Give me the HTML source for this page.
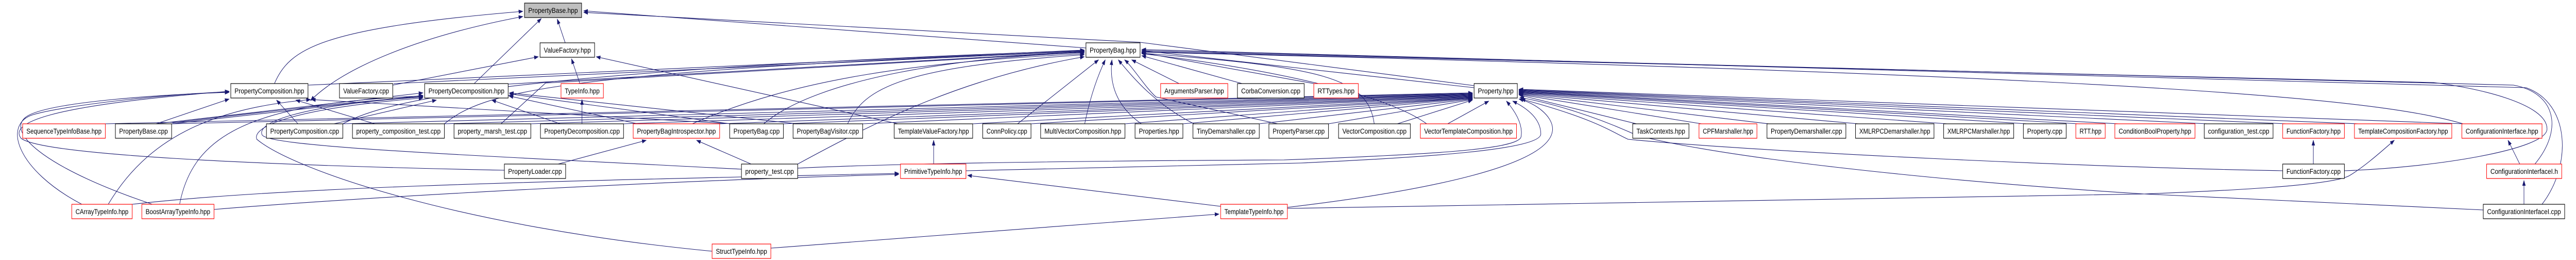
<!DOCTYPE html>
<html><head><meta charset="utf-8"><style>
html,body{margin:0;padding:0;background:#fff;overflow:hidden;width:100%;height:100%;}
svg{display:block;width:100vw;height:100vh;}
text{font-family:"Liberation Sans",sans-serif;font-size:14px;fill:#000;}
.e{fill:none;stroke:#191970;stroke-width:1.1;}
</style></head><body>
<svg viewBox="0 0 6139 504" preserveAspectRatio="none" xmlns="http://www.w3.org/2000/svg">
<defs>
<marker id="a" markerWidth="11" markerHeight="8" refX="10" refY="4" orient="auto" markerUnits="userSpaceOnUse"><path d="M0,0 L11,4 L0,8 z" fill="#191970"/></marker>
<marker id="s" markerWidth="11" markerHeight="8" refX="1" refY="4" orient="auto" markerUnits="userSpaceOnUse"><path d="M11,0 L0,4 L11,8 z" fill="#191970"/></marker>
</defs>
<g class="e" marker-end="url(#a)">
<path d="M654,162 C690,95 760,55 1246,22"/>
<path d="M740,195 C820,130 1000,70 1246,32" marker-start="url(#s)"/>
<path d="M1130,162 L1290,36"/>
<path d="M1347,83 L1328,37"/>
<path d="M2588,93 L1391,21"/>
<path d="M3513,166 L2717,82 L1391,24"/>
<path d="M936,165 L1283,110"/>
<path d="M1382,162 L1362,114"/>
<path d="M2140,240 L1421,110"/>
<path d="M1387,240 L1387,193"/>
<path d="M710,240 L659,194"/>
<path d="M893,240 L705,194"/>
<path d="M1745,240 L742,193"/>
<path d="M372,240 L546,192"/>
<path d="M195,396 C40,330 4,240 80,222 S400,182 546,178"/>
<path d="M363,396 C120,330 14,260 60,228 S420,182 546,179"/>
<path d="M1202,330 C600,320 100,300 50,268 C24,240 100,205 546,177"/>
<path d="M258,396 C350,270 500,210 740,193"/>
<path d="M409,240 L1008,185"/>
<path d="M411,238 C600,220 800,200 1008,187"/>
<path d="M372,240 L1008,180"/>
<path d="M796,240 L1040,194"/>
<path d="M428,396 C460,260 600,200 1008,186"/>
<path d="M1335,240 L1172,194"/>
<path d="M1520,240 L1213,186"/>
<path d="M1740,240 L1214,182"/>
<path d="M1900,240 L1214,180"/>
<path d="M1767,328 C1100,300 650,285 625,262 C610,240 700,205 1008,188"/>
<path d="M1697,487 C1100,440 700,330 612,270 C600,245 700,210 1008,190"/>
<path d="M1330,318 L1540,272"/>
<path d="M1790,318 L1660,272"/>
<path d="M735,165 L2584,97"/>
<path d="M938,162 L2584,99"/>
<path d="M1211,163 L2584,100"/>
<path d="M1650,240 C1900,150 2200,120 2584,104"/>
<path d="M1820,240 C1950,150 2300,110 2584,102"/>
<path d="M2020,240 C2060,170 2150,130 2584,106"/>
<path d="M1901,318 C2100,230 2300,150 2584,110"/>
<path d="M817,240 C900,205 1100,140 2584,98"/>
<path d="M1059,240 C1150,180 1300,140 2584,99"/>
<path d="M1194,240 L1300,161 L2584,101"/>
<path d="M2425,240 L2618,116"/>
<path d="M2585,240 C2600,180 2620,140 2634,116"/>
<path d="M2720,240 C2650,200 2645,150 2650,116"/>
<path d="M2845,240 C2750,200 2700,150 2665,116"/>
<path d="M3045,240 L2755,188 C2730,170 2700,130 2680,116"/>
<path d="M2810,162 L2697,116"/>
<path d="M2960,162 L2721,108"/>
<path d="M3131,162 L2721,102"/>
<path d="M3513,170 L2721,98"/>
<path d="M3400,240 C3300,180 3000,130 2721,104"/>
<path d="M3275,240 C3260,150 3150,130 2721,103"/>
<path d="M6041,318 C6110,250 6090,180 5990,165 L2721,98"/>
<path d="M6058,396 C6130,320 6125,200 6020,170 L2721,96"/>
<path d="M5587,331 C5800,325 6070,290 6070,250 C6070,200 5900,170 5800,160 L2721,100"/>
<path d="M5870,240 C5700,200 5300,150 2721,101"/>
<path d="M251,240 L3509,180"/>
<path d="M409,240 L3509,181"/>
<path d="M817,240 L3509,182"/>
<path d="M1059,240 L3509,183"/>
<path d="M1265,240 L3509,184"/>
<path d="M1486,240 L3509,185"/>
<path d="M1715,240 L3509,186"/>
<path d="M1867,240 L3509,187"/>
<path d="M2056,240 L3509,188"/>
<path d="M2318,240 L3509,189"/>
<path d="M2457,240 L3509,190"/>
<path d="M2681,240 L3509,190"/>
<path d="M2819,240 L3509,191"/>
<path d="M3001,240 L3509,192"/>
<path d="M3166,240 L3509,193"/>
<path d="M3330,240 L3509,194"/>
<path d="M3450,240 L3548,196"/>
<path d="M1901,326 C2100,318 2500,312 3060,310 C3400,300 3620,290 3625,265 C3630,240 3610,215 3590,196"/>
<path d="M2302,331 C2700,325 3000,318 3100,316 C3400,305 3670,290 3672,260 C3672,230 3640,210 3605,196"/>
<path d="M3068,402 C3400,370 3700,320 3700,250 C3700,225 3660,200 3620,192"/>
<path d="M5440,331 C5000,325 4200,295 3880,270 C3840,255 3800,230 3625,192"/>
<path d="M5918,407 L5110,376 C4600,350 4100,305 3900,262 C3800,225 3700,200 3622,189"/>
<path d="M3900,240 L3620,184"/>
<path d="M4055,240 L3620,183"/>
<path d="M4215,240 L3620,182"/>
<path d="M4428,240 L3620,181"/>
<path d="M4640,240 L3620,180"/>
<path d="M4830,240 L3620,179"/>
<path d="M4952,240 L3620,178"/>
<path d="M5048,240 L3620,177"/>
<path d="M5260,240 L3620,176"/>
<path d="M5448,240 L3620,175"/>
<path d="M5620,240 L3620,174"/>
<path d="M5870,240 L3620,173"/>
<path d="M2225,318 L2225,272"/>
<path d="M5513,318 L5513,272"/>
<path d="M6005,318 L5977,272"/>
<path d="M6015,396 L6015,350"/>
<path d="M3068,404 L5110,376 C5300,370 5560,360 5600,340 C5640,320 5680,290 5706,272"/>
<path d="M315,396 C700,360 1400,350 2142,336"/>
<path d="M510,406 C900,380 1600,350 2142,338"/>
<path d="M2909,400 L2306,340"/>
<path d="M1837,481 L2905,415"/>
</g>
<g stroke-width="1.2">
<rect x="1250" y="6" width="136" height="28" fill="#bfbfbf" stroke="#000"/><text x="1259" y="25" textLength="118" lengthAdjust="spacingAndGlyphs">PropertyBase.hpp</text>
<rect x="1287" y="83" width="130" height="28" fill="#fff" stroke="#000"/><text x="1296" y="102" textLength="112" lengthAdjust="spacingAndGlyphs">ValueFactory.hpp</text>
<rect x="2588" y="83" width="129" height="28" fill="#fff" stroke="#000"/><text x="2597" y="102" textLength="111" lengthAdjust="spacingAndGlyphs">PropertyBag.hpp</text>
<rect x="550" y="162" width="184" height="28" fill="#fff" stroke="#000"/><text x="559" y="181" textLength="166" lengthAdjust="spacingAndGlyphs">PropertyComposition.hpp</text>
<rect x="809" y="162" width="127" height="28" fill="#fff" stroke="#000"/><text x="818" y="181" textLength="109" lengthAdjust="spacingAndGlyphs">ValueFactory.cpp</text>
<rect x="1012" y="162" width="199" height="28" fill="#fff" stroke="#000"/><text x="1021" y="181" textLength="181" lengthAdjust="spacingAndGlyphs">PropertyDecomposition.hpp</text>
<rect x="1337" y="162" width="101" height="28" fill="#fff" stroke="#f00"/><text x="1346" y="181" textLength="83" lengthAdjust="spacingAndGlyphs">TypeInfo.hpp</text>
<rect x="2766" y="162" width="160" height="28" fill="#fff" stroke="#f00"/><text x="2775" y="181" textLength="142" lengthAdjust="spacingAndGlyphs">ArgumentsParser.hpp</text>
<rect x="2949" y="162" width="159" height="28" fill="#fff" stroke="#000"/><text x="2958" y="181" textLength="141" lengthAdjust="spacingAndGlyphs">CorbaConversion.cpp</text>
<rect x="3131" y="162" width="106" height="28" fill="#fff" stroke="#f00"/><text x="3140" y="181" textLength="88" lengthAdjust="spacingAndGlyphs">RTTypes.hpp</text>
<rect x="3513" y="162" width="103" height="28" fill="#fff" stroke="#000"/><text x="3522" y="181" textLength="85" lengthAdjust="spacingAndGlyphs">Property.hpp</text>
<rect x="54" y="240" width="197" height="28" fill="#fff" stroke="#f00"/><text x="63" y="259" textLength="179" lengthAdjust="spacingAndGlyphs">SequenceTypeInfoBase.hpp</text>
<rect x="275" y="240" width="134" height="28" fill="#fff" stroke="#000"/><text x="284" y="259" textLength="116" lengthAdjust="spacingAndGlyphs">PropertyBase.cpp</text>
<rect x="635" y="240" width="182" height="28" fill="#fff" stroke="#000"/><text x="644" y="259" textLength="164" lengthAdjust="spacingAndGlyphs">PropertyComposition.cpp</text>
<rect x="840" y="240" width="219" height="28" fill="#fff" stroke="#000"/><text x="849" y="259" textLength="201" lengthAdjust="spacingAndGlyphs">property_composition_test.cpp</text>
<rect x="1082" y="240" width="183" height="28" fill="#fff" stroke="#000"/><text x="1091" y="259" textLength="165" lengthAdjust="spacingAndGlyphs">property_marsh_test.cpp</text>
<rect x="1288" y="240" width="198" height="28" fill="#fff" stroke="#000"/><text x="1297" y="259" textLength="180" lengthAdjust="spacingAndGlyphs">PropertyDecomposition.cpp</text>
<rect x="1509" y="240" width="206" height="28" fill="#fff" stroke="#f00"/><text x="1518" y="259" textLength="188" lengthAdjust="spacingAndGlyphs">PropertyBagIntrospector.hpp</text>
<rect x="1739" y="240" width="128" height="28" fill="#fff" stroke="#000"/><text x="1748" y="259" textLength="110" lengthAdjust="spacingAndGlyphs">PropertyBag.cpp</text>
<rect x="1890" y="240" width="166" height="28" fill="#fff" stroke="#000"/><text x="1899" y="259" textLength="148" lengthAdjust="spacingAndGlyphs">PropertyBagVisitor.cpp</text>
<rect x="2131" y="240" width="187" height="28" fill="#fff" stroke="#000"/><text x="2140" y="259" textLength="169" lengthAdjust="spacingAndGlyphs">TemplateValueFactory.hpp</text>
<rect x="2342" y="240" width="115" height="28" fill="#fff" stroke="#000"/><text x="2351" y="259" textLength="97" lengthAdjust="spacingAndGlyphs">ConnPolicy.cpp</text>
<rect x="2480" y="240" width="201" height="28" fill="#fff" stroke="#000"/><text x="2489" y="259" textLength="183" lengthAdjust="spacingAndGlyphs">MultiVectorComposition.hpp</text>
<rect x="2705" y="240" width="114" height="28" fill="#fff" stroke="#000"/><text x="2714" y="259" textLength="96" lengthAdjust="spacingAndGlyphs">Properties.hpp</text>
<rect x="2843" y="240" width="158" height="28" fill="#fff" stroke="#000"/><text x="2852" y="259" textLength="140" lengthAdjust="spacingAndGlyphs">TinyDemarshaller.cpp</text>
<rect x="3024" y="240" width="142" height="28" fill="#fff" stroke="#000"/><text x="3033" y="259" textLength="124" lengthAdjust="spacingAndGlyphs">PropertyParser.cpp</text>
<rect x="3190" y="240" width="171" height="28" fill="#fff" stroke="#000"/><text x="3199" y="259" textLength="153" lengthAdjust="spacingAndGlyphs">VectorComposition.cpp</text>
<rect x="3385" y="240" width="229" height="28" fill="#fff" stroke="#f00"/><text x="3394" y="259" textLength="211" lengthAdjust="spacingAndGlyphs">VectorTemplateComposition.hpp</text>
<rect x="3891" y="240" width="134" height="28" fill="#fff" stroke="#000"/><text x="3900" y="259" textLength="116" lengthAdjust="spacingAndGlyphs">TaskContexts.hpp</text>
<rect x="4049" y="240" width="138" height="28" fill="#fff" stroke="#f00"/><text x="4058" y="259" textLength="120" lengthAdjust="spacingAndGlyphs">CPFMarshaller.hpp</text>
<rect x="4211" y="240" width="188" height="28" fill="#fff" stroke="#000"/><text x="4220" y="259" textLength="170" lengthAdjust="spacingAndGlyphs">PropertyDemarshaller.cpp</text>
<rect x="4422" y="240" width="187" height="28" fill="#fff" stroke="#000"/><text x="4431" y="259" textLength="169" lengthAdjust="spacingAndGlyphs">XMLRPCDemarshaller.hpp</text>
<rect x="4632" y="240" width="167" height="28" fill="#fff" stroke="#000"/><text x="4641" y="259" textLength="149" lengthAdjust="spacingAndGlyphs">XMLRPCMarshaller.hpp</text>
<rect x="4822" y="240" width="102" height="28" fill="#fff" stroke="#000"/><text x="4831" y="259" textLength="84" lengthAdjust="spacingAndGlyphs">Property.cpp</text>
<rect x="4947" y="240" width="70" height="28" fill="#fff" stroke="#f00"/><text x="4956" y="259" textLength="52" lengthAdjust="spacingAndGlyphs">RTT.hpp</text>
<rect x="5040" y="240" width="191" height="28" fill="#fff" stroke="#f00"/><text x="5049" y="259" textLength="173" lengthAdjust="spacingAndGlyphs">ConditionBoolProperty.hpp</text>
<rect x="5253" y="240" width="164" height="28" fill="#fff" stroke="#000"/><text x="5262" y="259" textLength="146" lengthAdjust="spacingAndGlyphs">configuration_test.cpp</text>
<rect x="5440" y="240" width="147" height="28" fill="#fff" stroke="#f00"/><text x="5449" y="259" textLength="129" lengthAdjust="spacingAndGlyphs">FunctionFactory.hpp</text>
<rect x="5611" y="240" width="232" height="28" fill="#fff" stroke="#f00"/><text x="5620" y="259" textLength="214" lengthAdjust="spacingAndGlyphs">TemplateCompositionFactory.hpp</text>
<rect x="5867" y="240" width="191" height="28" fill="#fff" stroke="#f00"/><text x="5876" y="259" textLength="173" lengthAdjust="spacingAndGlyphs">ConfigurationInterface.hpp</text>
<rect x="1202" y="318" width="146" height="28" fill="#fff" stroke="#000"/><text x="1211" y="337" textLength="128" lengthAdjust="spacingAndGlyphs">PropertyLoader.cpp</text>
<rect x="1767" y="318" width="134" height="28" fill="#fff" stroke="#000"/><text x="1776" y="337" textLength="116" lengthAdjust="spacingAndGlyphs">property_test.cpp</text>
<rect x="2146" y="318" width="156" height="28" fill="#fff" stroke="#f00"/><text x="2155" y="337" textLength="138" lengthAdjust="spacingAndGlyphs">PrimitiveTypeInfo.hpp</text>
<rect x="5440" y="318" width="147" height="28" fill="#fff" stroke="#000"/><text x="5449" y="337" textLength="129" lengthAdjust="spacingAndGlyphs">FunctionFactory.cpp</text>
<rect x="5926" y="318" width="179" height="28" fill="#fff" stroke="#f00"/><text x="5935" y="337" textLength="161" lengthAdjust="spacingAndGlyphs">ConfigurationInterfaceI.h</text>
<rect x="171" y="396" width="144" height="28" fill="#fff" stroke="#f00"/><text x="180" y="415" textLength="126" lengthAdjust="spacingAndGlyphs">CArrayTypeInfo.hpp</text>
<rect x="338" y="396" width="172" height="28" fill="#fff" stroke="#f00"/><text x="347" y="415" textLength="154" lengthAdjust="spacingAndGlyphs">BoostArrayTypeInfo.hpp</text>
<rect x="2909" y="396" width="159" height="28" fill="#fff" stroke="#f00"/><text x="2918" y="415" textLength="141" lengthAdjust="spacingAndGlyphs">TemplateTypeInfo.hpp</text>
<rect x="5918" y="396" width="194" height="28" fill="#fff" stroke="#000"/><text x="5927" y="415" textLength="176" lengthAdjust="spacingAndGlyphs">ConfigurationInterfaceI.cpp</text>
<rect x="1697" y="473" width="140" height="28" fill="#fff" stroke="#f00"/><text x="1706" y="492" textLength="122" lengthAdjust="spacingAndGlyphs">StructTypeInfo.hpp</text>
</g>
</svg>
</body></html>
